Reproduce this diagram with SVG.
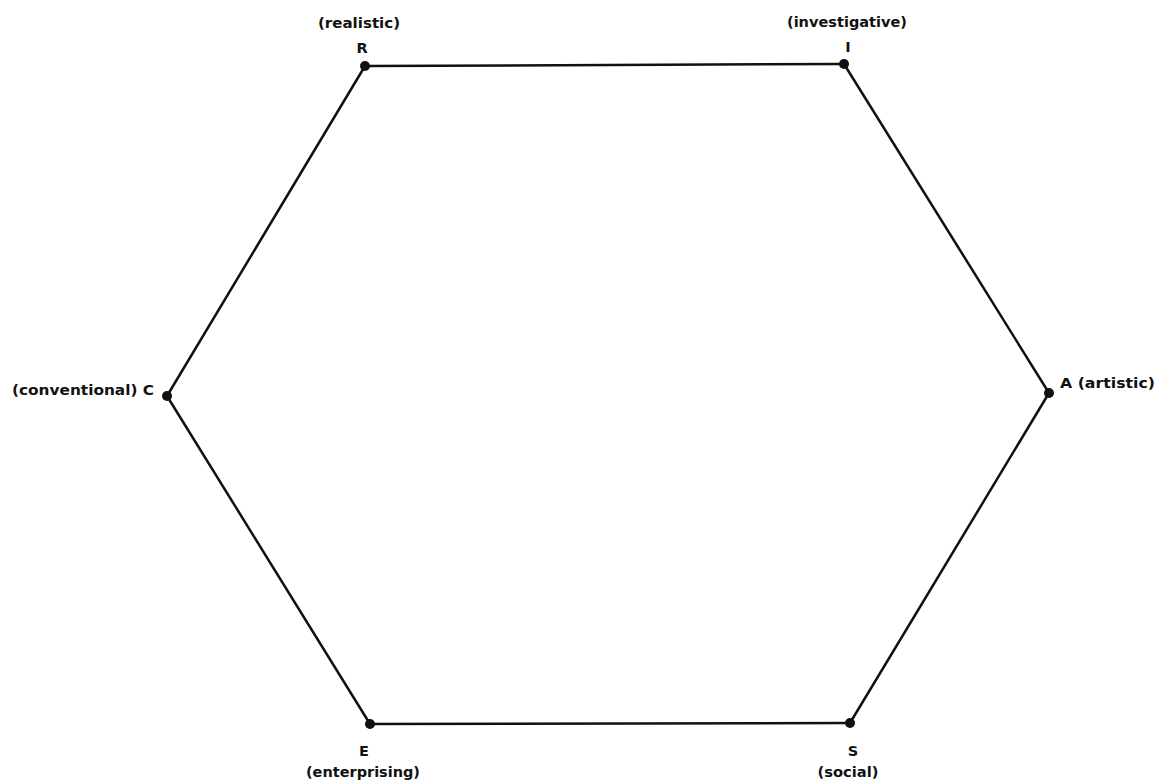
<svg xmlns="http://www.w3.org/2000/svg" width="1156" height="784" viewBox="0 0 1156 784">
<style>
.lbl{font-family:"DejaVu Sans","Liberation Sans",sans-serif;font-weight:bold;font-size:14.5px;fill:#111;}
.edge{stroke:#111;stroke-width:2.5;fill:none;stroke-linecap:round;}
.dot{fill:#111;}
</style>
<rect width="1156" height="784" fill="#fff"/>
<g id="connectors">
<line class="edge" x1="365" y1="66" x2="844" y2="64"/>
<line class="edge" x1="844" y1="64" x2="1049" y2="393"/>
<line class="edge" x1="1049" y1="393" x2="850" y2="723"/>
<line class="edge" x1="850" y1="723" x2="370" y2="724"/>
<line class="edge" x1="370" y1="724" x2="167" y2="396"/>
<line class="edge" x1="167" y1="396" x2="365" y2="66"/>
</g>
<g id="node-R">
<circle class="dot" cx="365" cy="66" r="5"/>
<text class="lbl" x="359" y="28" text-anchor="middle" textLength="82" lengthAdjust="spacingAndGlyphs">(realistic)</text>
<text class="lbl" x="362" y="53" text-anchor="middle">R</text>
</g>
<g id="node-I">
<circle class="dot" cx="844" cy="64" r="5"/>
<text class="lbl" x="847" y="27" text-anchor="middle" textLength="120" lengthAdjust="spacingAndGlyphs">(investigative)</text>
<text class="lbl" x="848" y="52" text-anchor="middle">I</text>
</g>
<g id="node-A">
<circle class="dot" cx="1049" cy="393" r="5"/>
<text class="lbl" x="1060" y="388" textLength="95" lengthAdjust="spacingAndGlyphs">A (artistic)</text>
</g>
<g id="node-S">
<circle class="dot" cx="850" cy="723" r="5"/>
<text class="lbl" x="853" y="756" text-anchor="middle">S</text>
<text class="lbl" x="848" y="777" text-anchor="middle" textLength="61" lengthAdjust="spacingAndGlyphs">(social)</text>
</g>
<g id="node-E">
<circle class="dot" cx="370" cy="724" r="5"/>
<text class="lbl" x="364" y="756" text-anchor="middle">E</text>
<text class="lbl" x="363" y="777" text-anchor="middle" textLength="114" lengthAdjust="spacingAndGlyphs">(enterprising)</text>
</g>
<g id="node-C">
<circle class="dot" cx="167" cy="396" r="5"/>
<text class="lbl" x="12" y="395" textLength="142" lengthAdjust="spacingAndGlyphs">(conventional) C</text>
</g>
</svg>
